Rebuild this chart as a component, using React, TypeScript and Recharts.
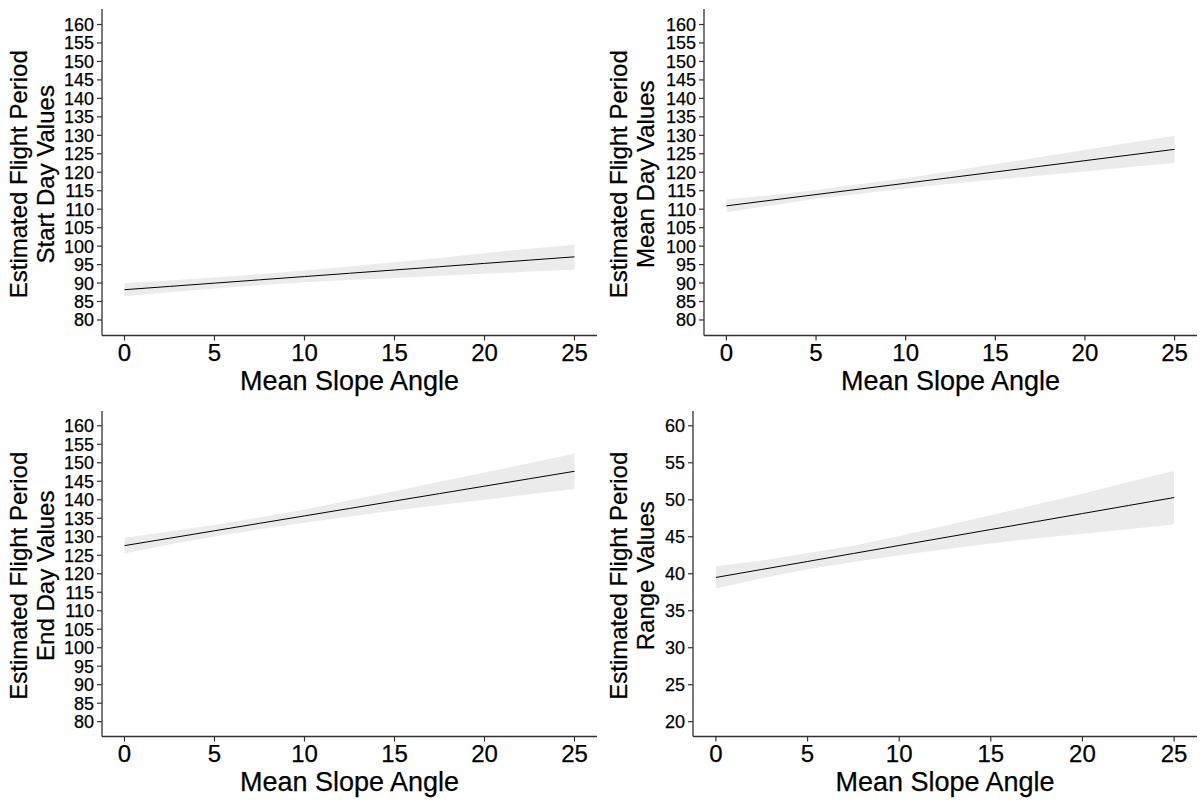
import React from 'react';
import { ComposedChart, Area, Line, XAxis, YAxis } from 'recharts';

// Mean slope angle values at which the fitted model is drawn
const slopeAngle = [0, 2.5, 5, 7.5, 10, 12.5, 15, 17.5, 20, 22.5, 25];
const xTicks = [0, 5, 10, 15, 20, 25];
const dayTicks = [80, 85, 90, 95, 100, 105, 110, 115, 120, 125, 130, 135, 140, 145, 150, 155, 160];
const rangeTicks = [20, 25, 30, 35, 40, 45, 50, 55, 60];

// Start day
const startFit = [88.2, 89.09, 89.98, 90.87, 91.76, 92.65, 93.54, 94.43, 95.32, 96.21, 97.1];
const startLower = [86.4, 87.5, 88.5, 89.4, 90.2, 90.8, 91.4, 92.0, 92.5, 93.1, 93.6];
const startUpper = [90.0, 90.7, 91.5, 92.4, 93.4, 94.5, 95.6, 96.8, 98.1, 99.3, 100.4];

// Mean day
const meanFit = [110.9, 112.43, 113.96, 115.49, 117.02, 118.55, 120.08, 121.61, 123.14, 124.67, 126.2];
const meanLower = [109.2, 111.0, 112.8, 114.2, 115.6, 116.9, 118.0, 119.1, 120.2, 121.4, 122.5];
const meanUpper = [112.6, 113.8, 115.2, 116.8, 118.4, 120.3, 122.2, 124.1, 126.0, 128.0, 129.9];

// End day
const endFit = [127.6, 129.61, 131.62, 133.63, 135.64, 137.65, 139.66, 141.67, 143.68, 145.69, 147.7];
const endLower = [125.5, 127.9, 130.1, 132.0, 133.8, 135.5, 137.1, 138.6, 140.0, 141.5, 142.9];
const endUpper = [129.7, 131.4, 133.2, 135.2, 137.4, 139.9, 142.3, 144.9, 147.4, 149.9, 152.5];

// Range
const rangeFit = [39.5, 40.58, 41.66, 42.74, 43.82, 44.9, 45.98, 47.06, 48.14, 49.22, 50.3];
const rangeLower = [38.0, 39.4, 40.6, 41.6, 42.5, 43.3, 44.1, 44.8, 45.4, 46.0, 46.7];
const rangeUpper = [41.0, 41.8, 42.8, 43.8, 45.1, 46.5, 47.9, 49.4, 50.8, 52.4, 53.9];

const FONT = '"Liberation Sans", Arial, sans-serif';
const AXIS = '#333333';

const YTick = (props: any) => {
  const { x, y, payload } = props;
  return (
    <text
      x={x}
      y={y}
      dy="0.36em"
      textAnchor="end"
      fontSize={18}
      fontFamily={FONT}
      fill="#000"
      stroke="#000"
      strokeWidth={0.25}
    >
      {payload.value}
    </text>
  );
};

const XTick = (props: any) => {
  const { x, y, payload } = props;
  return (
    <text
      x={x}
      y={y}
      dy="0.72em"
      textAnchor="middle"
      fontSize={24}
      fontFamily={FONT}
      fill="#000"
      stroke="#000"
      strokeWidth={0.25}
    >
      {payload.value}
    </text>
  );
};

type PanelProps = {
  left: number;
  top: number;
  fit: number[];
  lower: number[];
  upper: number[];
  yDomain: [number, number];
  yTicks: number[];
  titleLines: string[];
  yAxisWidth: number;
  marginTop: number;
  xAxisHeight: number;
};

const Panel = (p: PanelProps) => {
  const data = slopeAngle.map((x, i) => ({
    x,
    fit: p.fit[i],
    band: [p.lower[i], p.upper[i]],
  }));

  const yTitle = (props: any) => {
    const vb = props.viewBox || {};
    const cy = (vb.y ?? 0) + (vb.height ?? 0) / 2 + 2;
    const xs = [27, 54];
    return (
      <g>
        {p.titleLines.map((t, i) => (
          <text
            key={i}
            x={xs[i]}
            y={cy}
            transform={`rotate(-90 ${xs[i]} ${cy})`}
            textAnchor="middle"
            fontSize={24}
            fontFamily={FONT}
            fill="#000"
            stroke="#000"
            strokeWidth={0.25}
          >
            {t}
          </text>
        ))}
      </g>
    );
  };

  const xTitle = (props: any) => {
    const vb = props.viewBox || {};
    const cx = (vb.x ?? 0) + (vb.width ?? 0) / 2;
    const y = (vb.y ?? 0) + 54;
    return (
      <text
        x={cx}
        y={y}
        textAnchor="middle"
        fontSize={27}
        fontFamily={FONT}
        fill="#000"
        stroke="#000"
        strokeWidth={0.25}
      >
        Mean Slope Angle
      </text>
    );
  };

  return (
    <div style={{ position: 'absolute', left: p.left, top: p.top, width: 600, height: 400 }}>
      <ComposedChart
        width={600}
        height={400}
        data={data}
        margin={{ top: p.marginTop, right: 3, bottom: 0, left: 0 }}
      >
        <XAxis
          type="number"
          dataKey="x"
          domain={[-1.25, 26.25]}
          ticks={xTicks}
          interval={0}
          allowDataOverflow
          height={p.xAxisHeight}
          tickSize={5}
          tickMargin={3}
          axisLine={{ stroke: AXIS, strokeWidth: 1.3 }}
          tickLine={{ stroke: AXIS, strokeWidth: 1.2 }}
          tick={<XTick />}
          label={{ content: xTitle }}
        />
        <YAxis
          type="number"
          domain={p.yDomain}
          ticks={p.yTicks}
          interval={0}
          allowDataOverflow
          width={p.yAxisWidth}
          tickSize={5}
          tickMargin={3}
          axisLine={{ stroke: AXIS, strokeWidth: 1.3 }}
          tickLine={{ stroke: AXIS, strokeWidth: 1.2 }}
          tick={<YTick />}
          label={{ content: yTitle }}
        />
        <Area
          type="linear"
          dataKey="band"
          stroke="none"
          fill="#EBEBEB"
          fillOpacity={1}
          isAnimationActive={false}
          dot={false}
          activeDot={false}
        />
        <Line
          type="linear"
          dataKey="fit"
          stroke="#000"
          strokeWidth={1}
          dot={false}
          activeDot={false}
          isAnimationActive={false}
        />
      </ComposedChart>
    </div>
  );
};

export default function App() {
  return (
    <div
      style={{
        position: 'absolute',
        left: 0,
        top: 0,
        width: 1200,
        height: 800,
        background: '#fff',
        overflow: 'hidden',
      }}
    >
      <Panel
        left={0}
        top={0}
        fit={startFit}
        lower={startLower}
        upper={startUpper}
        yDomain={[75.8, 164.2]}
        yTicks={dayTicks}
        titleLines={['Estimated Flight Period', 'Start Day Values']}
        yAxisWidth={102}
        marginTop={9}
        xAxisHeight={64.5}
      />
      <Panel
        left={600}
        top={0}
        fit={meanFit}
        lower={meanLower}
        upper={meanUpper}
        yDomain={[75.8, 164.2]}
        yTicks={dayTicks}
        titleLines={['Estimated Flight Period', 'Mean Day Values']}
        yAxisWidth={104}
        marginTop={9}
        xAxisHeight={64.5}
      />
      <Panel
        left={0}
        top={400}
        fit={endFit}
        lower={endLower}
        upper={endUpper}
        yDomain={[76, 164]}
        yTicks={dayTicks}
        titleLines={['Estimated Flight Period', 'End Day Values']}
        yAxisWidth={102}
        marginTop={11}
        xAxisHeight={63.5}
      />
      <Panel
        left={600}
        top={400}
        fit={rangeFit}
        lower={rangeLower}
        upper={rangeUpper}
        yDomain={[18, 62]}
        yTicks={rangeTicks}
        titleLines={['Estimated Flight Period', 'Range Values']}
        yAxisWidth={93}
        marginTop={11}
        xAxisHeight={63.5}
      />
    </div>
  );
}
